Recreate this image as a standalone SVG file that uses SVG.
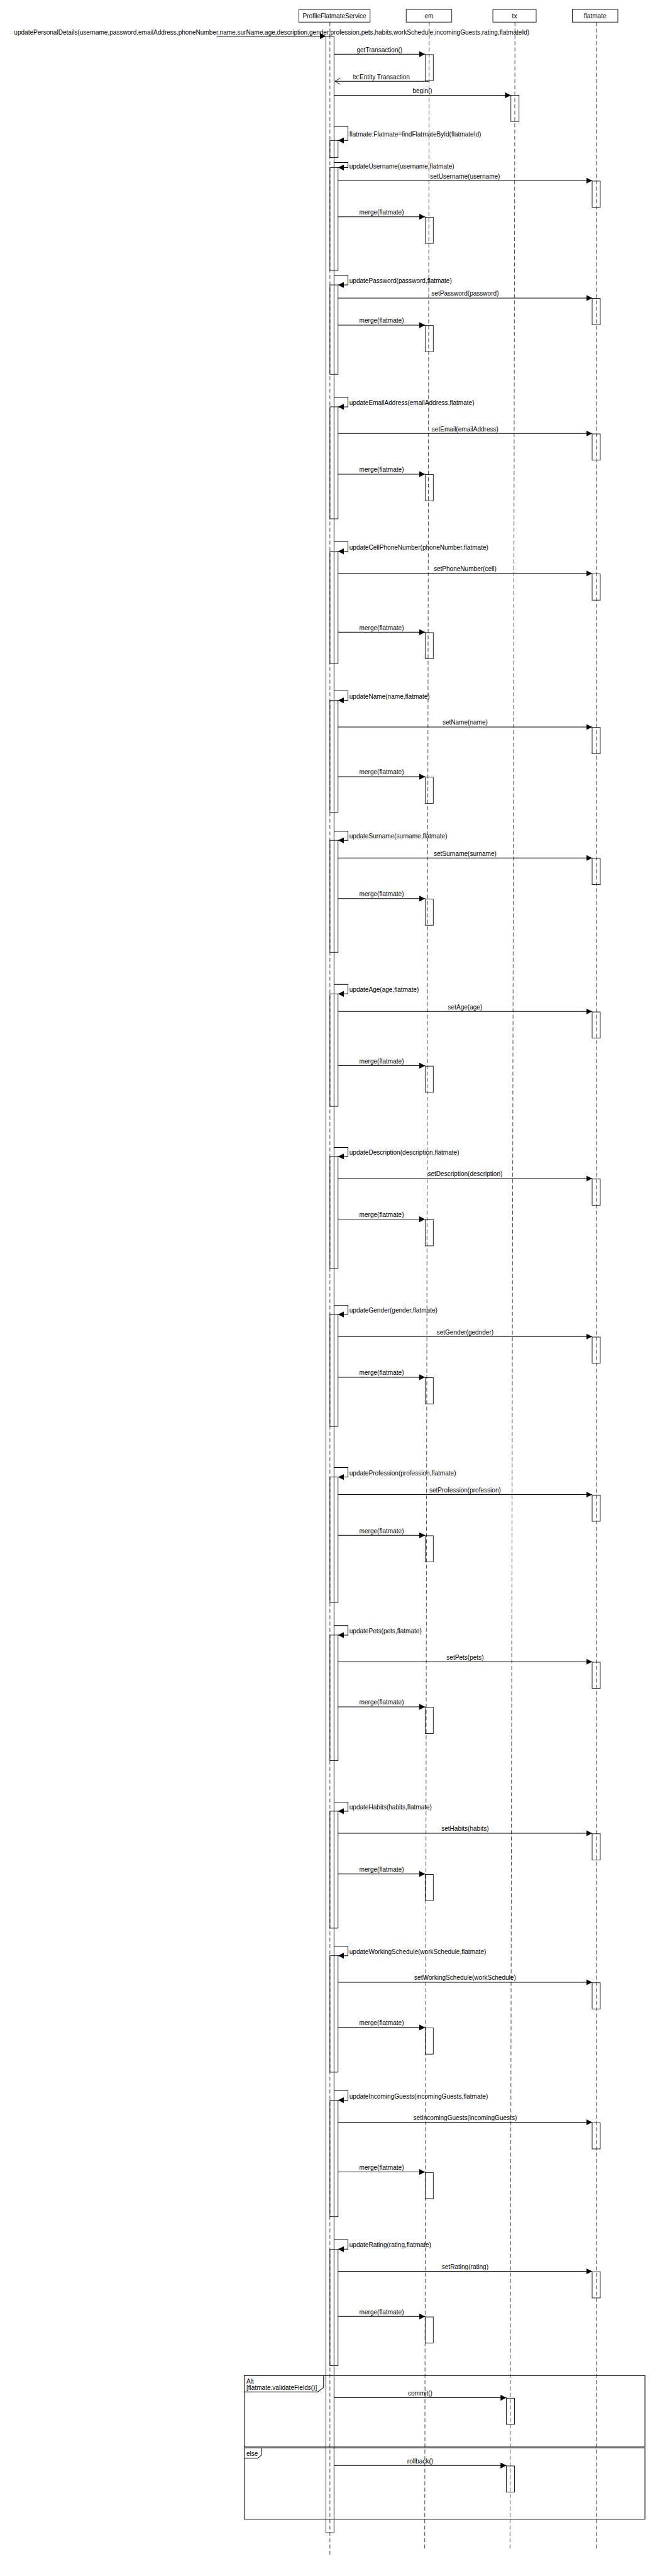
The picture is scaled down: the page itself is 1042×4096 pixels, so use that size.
<svg xmlns="http://www.w3.org/2000/svg" width="1042" height="4096" viewBox="0 0 1042 4096">
<style>
text{font-family:"Liberation Sans",Arial,sans-serif;font-size:14px;fill:#000}
.c{text-anchor:middle}
.box{fill:#fff;stroke:#000;stroke-width:1.2}
.act{fill:none;stroke:#000;stroke-width:1.2}
.life{stroke:#000;stroke-width:1;stroke-dasharray:9 5;fill:none}
.msg{stroke:#000;stroke-width:1.4;fill:none;marker-end:url(#fa)}
.ret{stroke:#000;stroke-width:1.4;fill:none;marker-end:url(#oa)}
.frm{fill:none;stroke:#000;stroke-width:1.4}
</style>
<defs>
<marker id="fa" viewBox="0 0 13 13" markerWidth="13" markerHeight="13" refX="13" refY="6.5" orient="auto" markerUnits="userSpaceOnUse"><path d="M0,0 L13,6.5 L0,13 z" fill="#000"/></marker>
<marker id="oa" viewBox="0 0 14 16" markerWidth="14" markerHeight="16" refX="13" refY="8" orient="auto" markerUnits="userSpaceOnUse"><path d="M1,1 L13,8 L1,15" fill="none" stroke="#000" stroke-width="1.2"/></marker>
</defs>
<rect width="1042" height="4096" fill="#fff"/>
<g transform="scale(0.718)">
<g id="lifeline-service">
<rect class="box" x="662" y="21" width="158" height="28"/>
<text class="c" x="741" y="40">ProfileFlatmateService</text>
<line class="life" x1="731" y1="49" x2="731" y2="5660"/>
<rect class="act" x="722" y="81" width="18" height="5528"/>
<rect class="act" x="731" y="311" width="18" height="38"/>
<rect class="act" x="731" y="371" width="18" height="228"/>
<rect class="act" x="731" y="631" width="18" height="198"/>
<rect class="act" x="731" y="901" width="18" height="248"/>
<rect class="act" x="731" y="1221" width="18" height="249"/>
<rect class="act" x="731" y="1551" width="18" height="248"/>
<rect class="act" x="731" y="1861" width="18" height="248"/>
<rect class="act" x="731" y="2201" width="18" height="249"/>
<rect class="act" x="731" y="2561" width="18" height="248"/>
<rect class="act" x="731" y="2911" width="18" height="248"/>
<rect class="act" x="731" y="3271" width="18" height="278"/>
<rect class="act" x="731" y="3621" width="18" height="278"/>
<rect class="act" x="731" y="4011" width="18" height="259"/>
<rect class="act" x="731" y="4331" width="18" height="258"/>
<rect class="act" x="731" y="4651" width="18" height="258"/>
<rect class="act" x="731" y="4981" width="18" height="258"/>
</g>
<g id="lifeline-em">
<rect class="box" x="900" y="21" width="101" height="28"/>
<text class="c" x="950.5" y="40">em</text>
<line class="life" x1="951" y1="49" x2="941" y2="5648"/>
<rect class="act" x="942" y="121" width="18" height="58"/>
<rect class="act" x="942" y="481" width="18" height="58"/>
<rect class="act" x="942" y="721" width="18" height="58"/>
<rect class="act" x="942" y="1051" width="18" height="58"/>
<rect class="act" x="942" y="1401" width="18" height="58"/>
<rect class="act" x="942" y="1721" width="18" height="58"/>
<rect class="act" x="942" y="1991" width="18" height="58"/>
<rect class="act" x="942" y="2361" width="18" height="58"/>
<rect class="act" x="942" y="2701" width="18" height="58"/>
<rect class="act" x="942" y="3051" width="18" height="58"/>
<rect class="act" x="942" y="3401" width="18" height="58"/>
<rect class="act" x="942" y="3781" width="18" height="58"/>
<rect class="act" x="942" y="4151" width="18" height="58"/>
<rect class="act" x="942" y="4491" width="18" height="58"/>
<rect class="act" x="942" y="4811" width="18" height="58"/>
<rect class="act" x="942" y="5131" width="18" height="58"/>
</g>
<g id="lifeline-tx">
<rect class="box" x="1092" y="21" width="96" height="28"/>
<text class="c" x="1140" y="40">tx</text>
<line class="life" x1="1141" y1="49" x2="1130" y2="5648"/>
<rect class="act" x="1132" y="211" width="18" height="58"/>
<rect class="act" x="1122" y="5311" width="18" height="58"/>
<rect class="act" x="1122" y="5461" width="18" height="58"/>
</g>
<g id="lifeline-flatmate">
<rect class="box" x="1268" y="21" width="101" height="28"/>
<text class="c" x="1318.5" y="40">flatmate</text>
<line class="life" x1="1321" y1="49" x2="1321" y2="5648"/>
<rect class="act" x="1312" y="401" width="18" height="58"/>
<rect class="act" x="1312" y="661" width="18" height="58"/>
<rect class="act" x="1312" y="961" width="18" height="58"/>
<rect class="act" x="1312" y="1271" width="18" height="58"/>
<rect class="act" x="1312" y="1611" width="18" height="58"/>
<rect class="act" x="1312" y="1901" width="18" height="58"/>
<rect class="act" x="1312" y="2241" width="18" height="58"/>
<rect class="act" x="1312" y="2611" width="18" height="58"/>
<rect class="act" x="1312" y="2961" width="18" height="58"/>
<rect class="act" x="1312" y="3311" width="18" height="58"/>
<rect class="act" x="1312" y="3681" width="18" height="58"/>
<rect class="act" x="1312" y="4061" width="18" height="58"/>
<rect class="act" x="1312" y="4391" width="18" height="58"/>
<rect class="act" x="1312" y="4701" width="18" height="58"/>
<rect class="act" x="1312" y="5031" width="18" height="58"/>
</g>
<g id="frame-alt">
<rect class="frm" x="541" y="5261" width="888" height="158"/>
<path class="frm" d="M541,5297 H704 L717,5287 V5261"/>
<text x="546" y="5278">Alt</text>
<text x="546" y="5292">[flatmate.validateFields()]</text>
<rect class="frm" x="541" y="5421" width="888" height="158"/>
<path class="frm" d="M541,5444 H571 L579,5437 V5421"/>
<text x="546" y="5439">else</text>
</g>
<g id="connectors">
<line class="msg" x1="480" y1="80" x2="722" y2="80"/>
<text class="c" x="602" y="77">updatePersonalDetails(username,password,emailAddress,phoneNumber,name,surName,age,description,gender,profession,pets,habits,workSchedule,incomingGuests,rating,flatmateId)</text>
<line class="msg" x1="740" y1="120" x2="942" y2="120"/>
<text class="c" x="841" y="116">getTransaction()</text>
<line class="ret" x1="951" y1="180" x2="742" y2="180"/>
<text class="c" x="845" y="175">tx:Entity Transaction</text>
<line class="msg" x1="740" y1="211" x2="1132" y2="211"/>
<text class="c" x="936" y="206">begin()</text>
<path class="msg" d="M740,280 H771 V311 H749"/>
<text x="774" y="302">flatmate:Flatmate=findFlatmateById(flatmateId)</text>

<path class="msg" d="M740,360 H771 V371 H749"/>
<text x="774" y="373">updateUsername(username,flatmate)</text>
<line class="msg" x1="749" y1="400" x2="1312" y2="400"/>
<text class="c" x="1030.5" y="395">setUsername(username)</text>
<line class="msg" x1="749" y1="480" x2="942" y2="480"/>
<text class="c" x="845.5" y="475">merge(flatmate)</text>

<path class="msg" d="M740,610 H771 V631 H749"/>
<text x="774" y="627">updatePassword(password,flatmate)</text>
<line class="msg" x1="749" y1="660" x2="1312" y2="660"/>
<text class="c" x="1030.5" y="655">setPassword(password)</text>
<line class="msg" x1="749" y1="720" x2="942" y2="720"/>
<text class="c" x="845.5" y="715">merge(flatmate)</text>

<path class="msg" d="M740,880 H771 V901 H749"/>
<text x="774" y="897">updateEmailAddress(emailAddress,flatmate)</text>
<line class="msg" x1="749" y1="960" x2="1312" y2="960"/>
<text class="c" x="1030.5" y="955">setEmail(emailAddress)</text>
<line class="msg" x1="749" y1="1050" x2="942" y2="1050"/>
<text class="c" x="845.5" y="1045">merge(flatmate)</text>

<path class="msg" d="M740,1200 H771 V1221 H749"/>
<text x="774" y="1217">updateCellPhoneNumber(phoneNumber,flatmate)</text>
<line class="msg" x1="749" y1="1270" x2="1312" y2="1270"/>
<text class="c" x="1030.5" y="1265">setPhoneNumber(cell)</text>
<line class="msg" x1="749" y1="1400" x2="942" y2="1400"/>
<text class="c" x="845.5" y="1395">merge(flatmate)</text>

<path class="msg" d="M740,1530 H771 V1551 H749"/>
<text x="774" y="1547">updateName(name,flatmate)</text>
<line class="msg" x1="749" y1="1610" x2="1312" y2="1610"/>
<text class="c" x="1030.5" y="1605">setName(name)</text>
<line class="msg" x1="749" y1="1720" x2="942" y2="1720"/>
<text class="c" x="845.5" y="1715">merge(flatmate)</text>

<path class="msg" d="M740,1841 H771 V1861 H749"/>
<text x="774" y="1857">updateSurname(surname,flatmate)</text>
<line class="msg" x1="749" y1="1900" x2="1312" y2="1900"/>
<text class="c" x="1030.5" y="1895">setSurname(surname)</text>
<line class="msg" x1="749" y1="1990" x2="942" y2="1990"/>
<text class="c" x="845.5" y="1985">merge(flatmate)</text>

<path class="msg" d="M740,2180 H771 V2201 H749"/>
<text x="774" y="2197">updateAge(age,flatmate)</text>
<line class="msg" x1="749" y1="2240" x2="1312" y2="2240"/>
<text class="c" x="1030.5" y="2235">setAge(age)</text>
<line class="msg" x1="749" y1="2360" x2="942" y2="2360"/>
<text class="c" x="845.5" y="2355">merge(flatmate)</text>

<path class="msg" d="M740,2541 H771 V2561 H749"/>
<text x="774" y="2557">updateDescription(description,flatmate)</text>
<line class="msg" x1="749" y1="2610" x2="1312" y2="2610"/>
<text class="c" x="1030.5" y="2605">setDescription(description)</text>
<line class="msg" x1="749" y1="2700" x2="942" y2="2700"/>
<text class="c" x="845.5" y="2695">merge(flatmate)</text>

<path class="msg" d="M740,2891 H771 V2911 H749"/>
<text x="774" y="2907">updateGender(gender,flatmate)</text>
<line class="msg" x1="749" y1="2960" x2="1312" y2="2960"/>
<text class="c" x="1030.5" y="2955">setGender(gednder)</text>
<line class="msg" x1="749" y1="3050" x2="942" y2="3050"/>
<text class="c" x="845.5" y="3045">merge(flatmate)</text>

<path class="msg" d="M740,3250 H771 V3271 H749"/>
<text x="774" y="3267">updateProfession(profession,flatmate)</text>
<line class="msg" x1="749" y1="3310" x2="1312" y2="3310"/>
<text class="c" x="1030.5" y="3305">setProfession(profession)</text>
<line class="msg" x1="749" y1="3400" x2="942" y2="3400"/>
<text class="c" x="845.5" y="3395">merge(flatmate)</text>

<path class="msg" d="M740,3600 H771 V3621 H749"/>
<text x="774" y="3617">updatePets(pets,flatmate)</text>
<line class="msg" x1="749" y1="3680" x2="1312" y2="3680"/>
<text class="c" x="1030.5" y="3675">setPets(pets)</text>
<line class="msg" x1="749" y1="3780" x2="942" y2="3780"/>
<text class="c" x="845.5" y="3775">merge(flatmate)</text>

<path class="msg" d="M740,3991 H771 V4011 H749"/>
<text x="774" y="4007">updateHabits(habits,flatmate)</text>
<line class="msg" x1="749" y1="4060" x2="1312" y2="4060"/>
<text class="c" x="1030.5" y="4055">setHabits(habits)</text>
<line class="msg" x1="749" y1="4150" x2="942" y2="4150"/>
<text class="c" x="845.5" y="4145">merge(flatmate)</text>

<path class="msg" d="M740,4310 H771 V4331 H749"/>
<text x="774" y="4327">updateWorkingSchedule(workSchedule,flatmate)</text>
<line class="msg" x1="749" y1="4390" x2="1312" y2="4390"/>
<text class="c" x="1030.5" y="4385">setWorkingSchedule(workSchedule)</text>
<line class="msg" x1="749" y1="4490" x2="942" y2="4490"/>
<text class="c" x="845.5" y="4485">merge(flatmate)</text>

<path class="msg" d="M740,4630 H771 V4651 H749"/>
<text x="774" y="4647">updateIncomingGuests(incomingGuests,flatmate)</text>
<line class="msg" x1="749" y1="4700" x2="1312" y2="4700"/>
<text class="c" x="1030.5" y="4695">setIncomingGuests(incomingGuests)</text>
<line class="msg" x1="749" y1="4810" x2="942" y2="4810"/>
<text class="c" x="845.5" y="4805">merge(flatmate)</text>

<path class="msg" d="M740,4960 H771 V4981 H749"/>
<text x="774" y="4977">updateRating(rating,flatmate)</text>
<line class="msg" x1="749" y1="5030" x2="1312" y2="5030"/>
<text class="c" x="1030.5" y="5025">setRating(rating)</text>
<line class="msg" x1="749" y1="5130" x2="942" y2="5130"/>
<text class="c" x="845.5" y="5125">merge(flatmate)</text>

<line class="msg" x1="740" y1="5310" x2="1122" y2="5310"/>
<text class="c" x="931" y="5305">commit()</text>
<line class="msg" x1="740" y1="5460" x2="1122" y2="5460"/>
<text class="c" x="931" y="5455">rollback()</text>
</g>
</g>
</svg>
